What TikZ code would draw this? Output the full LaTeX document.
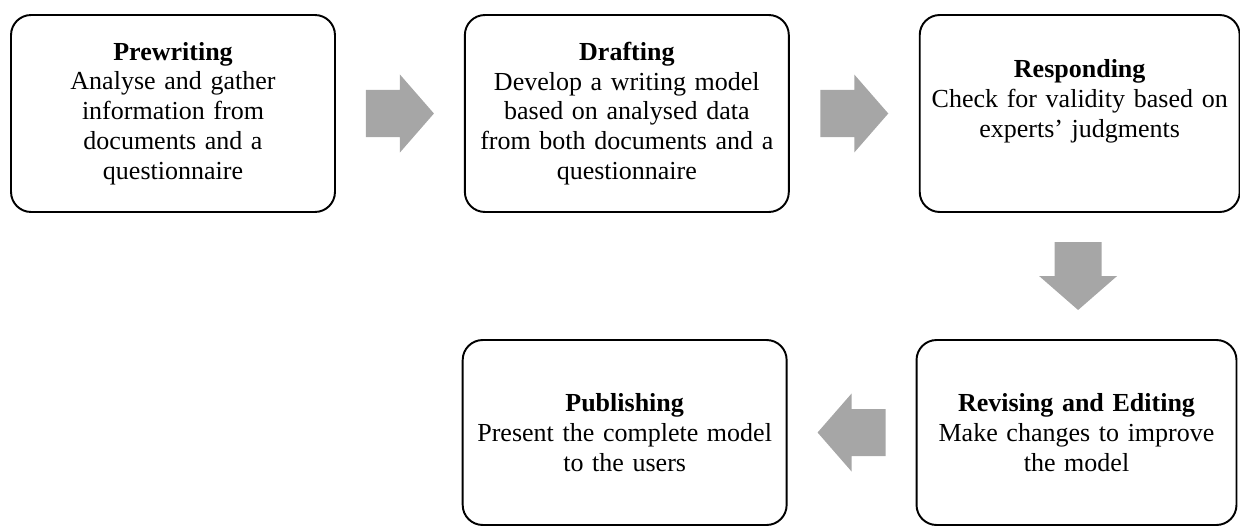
\documentclass[tikz,border=0pt]{standalone}
\usepackage{fontspec}
\setmainfont{Liberation Serif}
\usetikzlibrary{positioning,calc}
\definecolor{arrowgray}{RGB}{166,166,166}
\tikzset{
	stagebox/.style={draw=black, line width=1.1pt, rounded corners=0.4cm, fill=white,
		minimum width=6.48cm, inner sep=0pt, text width=6.2cm, align=center,
		font=\fontsize{14.8}{17}\selectfont},
	uprow/.style={stagebox, minimum height=3.94cm},
	downrow/.style={stagebox, minimum height=3.7cm},
	narrow/.style={minimum width=6.4cm},
	flowarrow/.style={fill=arrowgray, draw=none}
}
% block arrow: centre, direction angle
\newcommand{\blockarrow}[2]{
	\fill[flowarrow, shift={(#1)}, rotate=#2]
		(-34,-23.5) -- (0,-23.5) -- (0,-39) -- (34,0) -- (0,39) -- (0,23.5) -- (-34,23.5) -- cycle;
}
\begin{document}
\begin{tikzpicture}[x=0.02cm,y=-0.02cm]
			%Page frame
			\useasboundingbox (0,0) rectangle (1240,527);
			%Upper row of stages
			\node [uprow] (pre) at (173,113.5) {\textbf{Prewriting}\\Analyse and gather\\information from\\documents and a\\questionnaire};
			\node [uprow, right=2.56cm of pre] (draft) {\textbf{Drafting}\\Develop a writing model\\based on analysed data\\from both documents and a\\questionnaire};
			\node [uprow, narrow, right=2.58cm of draft] (respond) {\textbf{Responding}\\Check for validity based on\\experts' judgments\\\mbox{}};
			%Lower row of stages
			\node [downrow, narrow] (revise) at (1076.5,432.5) {\textbf{Revising and Editing}\\Make changes to improve\\the model};
			\node [downrow, left=2.56cm of revise] (publish) {\textbf{Publishing}\\Present the complete model\\to the users};
			%Centres of the gaps between the stages
			\coordinate (gap1) at ($(pre.east)!0.5!(draft.west)$);
			\coordinate (gap2) at ($(draft.east)!0.5!(respond.west)$);
			\coordinate (gap3) at ($(respond.south)!0.5!(revise.north)$);
			\coordinate (gap4) at ($(revise.west)!0.5!(publish.east)$);
			%Gray block arrows
			\blockarrow{gap1}{0}
			\blockarrow{gap2}{0}
			\blockarrow{gap3}{-90}
			\blockarrow{gap4}{180}
\end{tikzpicture}
\end{document}
